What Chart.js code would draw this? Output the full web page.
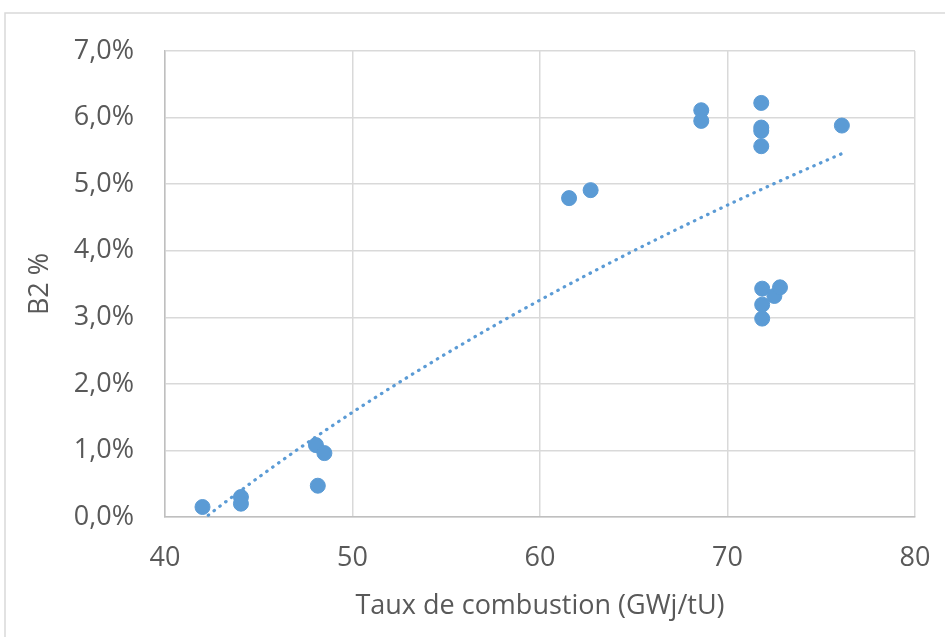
<!DOCTYPE html>
<html>
<head>
<meta charset="utf-8">
<script src="https://cdn.jsdelivr.net/npm/chart.js@4/dist/chart.umd.min.js"></script>
<style>
  html, body { margin: 0; padding: 0; background: #ffffff; }
  #wrap { width: 945px; height: 637px; position: relative; }
</style>
</head>
<body>
<div id="wrap"><canvas id="c" width="945" height="637"></canvas></div>
<script>
// Burnup (GWj/tU)
const burnup = [42.0, 44.05, 44.05, 48.05, 48.5, 48.15, 61.55, 62.7, 68.6, 68.6,
                71.8, 71.8, 71.8, 71.8, 76.1, 71.85, 71.85, 71.85, 72.5, 72.8];
// B2 (%)
const b2 = [0.15, 0.30, 0.20, 1.08, 0.96, 0.47, 4.79, 4.91, 6.11, 5.95,
            6.22, 5.85, 5.80, 5.57, 5.88, 3.43, 3.19, 2.98, 3.32, 3.45];
const xTicks = [40, 50, 60, 70, 80];
const yTicks = [0, 1, 2, 3, 4, 5, 6, 7];
const xTitle = 'Taux de combustion (GWj/tU)';
const yTitle = 'B2 %';

const points = burnup.map((x, i) => ({ x: x, y: b2[i] }));

// Logarithmic least-squares trendline y = a*ln(x) + b
const lx = burnup.map(v => Math.log(v));
const n = lx.length;
const mLx = lx.reduce((s, v) => s + v, 0) / n;
const mY = b2.reduce((s, v) => s + v, 0) / n;
let sxy = 0, sxx = 0;
for (let i = 0; i < n; i++) { sxy += (lx[i] - mLx) * (b2[i] - mY); sxx += (lx[i] - mLx) ** 2; }
const a = sxy / sxx, b = mY - a * mLx;
const xMin = Math.min(...burnup), xMax = Math.max(...burnup);
const trend = [];
for (let k = 0; k <= 200; k++) {
  const x = xMin + (xMax - xMin) * k / 200;
  trend.push({ x: x, y: a * Math.log(x) + b });
}

const blue = '#5B9BD5';
const txt = '#595959';
const grid = '#d9d9d9';
const font = { family: '"Open Sans", "Noto Sans", sans-serif', size: 27 };

const frame = {
  id: 'frame',
  beforeDraw(chart) {
    const ctx = chart.ctx;
    ctx.save();
    ctx.fillStyle = '#ffffff';
    ctx.fillRect(0, 0, chart.width, chart.height);
    ctx.strokeStyle = '#d9d9d9';
    ctx.lineWidth = 1.5;
    ctx.strokeRect(5, 13, 1200, 1200);
    ctx.restore();
  }
};

new Chart(document.getElementById('c'), {
  type: 'scatter',
  data: {
    datasets: [
      {
        data: points,
        backgroundColor: blue,
        borderColor: blue,
        pointRadius: 7.5,
        pointHoverRadius: 7.5,
        order: 1
      },
      {
        type: 'line',
        data: trend,
        borderColor: blue,
        borderWidth: 3.2,
        borderDash: [0.5, 6.8],
        borderCapStyle: 'round',
        pointRadius: 0,
        fill: false,
        tension: 0,
        order: 2
      }
    ]
  },
  options: {
    responsive: false,
    animation: false,
    events: [],
    layout: { padding: { left: 0, top: 51, right: 30, bottom: 10 } },
    plugins: { legend: { display: false }, tooltip: { enabled: false } },
    scales: {
      x: {
        type: 'linear',
        min: 40, max: 80,
        afterBuildTicks(s) { s.ticks = xTicks.map(v => ({ value: v })); },
        afterFit(s) { s.height = 110; s.paddingLeft = 0; s.paddingRight = 0; },
        grid: { color: grid, lineWidth: 1.5, drawTicks: false },
        border: { color: '#bfbfbf', width: 1.5 },
        ticks: { color: txt, font: font, padding: 25, maxRotation: 0 },
        title: { display: true, text: xTitle, color: txt, font: font, padding: { top: 4, bottom: 4 } }
      },
      y: {
        type: 'linear',
        min: 0, max: 7,
        afterBuildTicks(s) { s.ticks = yTicks.map(v => ({ value: v })); },
        afterFit(s) { s.width = 165; s.paddingTop = 0; s.paddingBottom = 0; },
        grid: { color: grid, lineWidth: 1.5, drawTicks: false },
        border: { color: '#bfbfbf', width: 1.5 },
        ticks: {
          color: txt, font: font, padding: 31,
          callback: v => v.toFixed(1).replace('.', ',') + '%'
        },
        title: { display: true, text: yTitle, color: txt, font: font, padding: { top: 24, bottom: 4 } }
      }
    }
  },
  plugins: [frame]
});
</script>
</body>
</html>
